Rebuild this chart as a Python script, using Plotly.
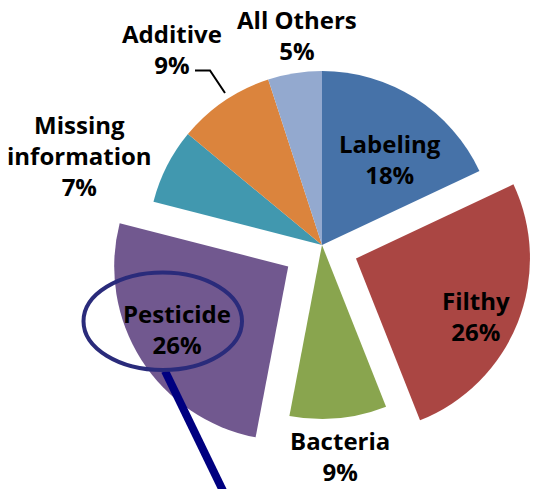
import plotly.graph_objects as go

# ---- data ----
categories = ["Labeling", "Filthy", "Bacteria", "Pesticide",
              "Missing information", "Additive", "All Others"]
display_text = ["Labeling", "Filthy", "Bacteria", "Pesticide",
                "Missing<br>information", "Additive", "All Others"]
shares = [18, 26, 9, 26, 7, 9, 5]
colors = ["#4672A8", "#AA4643", "#89A54E", "#71588F",
          "#4198AF", "#DB843D", "#93A9CF"]
pulls = [0, 0.21, 0, 0.23, 0, 0, 0]
# label block centres (pixels) – layout only
label_centres = [(390, 159), (476, 316), (340, 456), (177, 329),
                 (79, 155), (172, 49), (297, 35)]

W, H = 537, 489
FONT = "Open Sans"
FS = 24

def px(x, y):
    return x / W, 1 - y / H

# pie geometry (pixels)
cx, cy, R = 322, 245, 174
half = R * (1 + max(pulls))
dom_x = [max(0, (cx - half) / W), min(1, (cx + half) / W)]
dom_y = [1 - (cy + half) / H, 1 - (cy - half) / H]

fig = go.Figure(go.Pie(
    labels=categories,
    values=shares,
    textinfo="none",
    sort=False,
    direction="clockwise",
    rotation=0,
    pull=pulls,
    marker=dict(colors=colors, line=dict(width=0)),
    domain=dict(x=dom_x, y=dom_y),
    showlegend=False,
    hoverinfo="label+percent",
))

# data labels as text
for txt, val, (lx, ly) in zip(display_text, shares, label_centres):
    ax, ay = px(lx, ly)
    fig.add_annotation(x=ax, y=ay, xref="paper", yref="paper",
                       text=f"{txt}<br>{val}%", showarrow=False,
                       xanchor="center", yanchor="middle", align="center",
                       font=dict(family=FONT, size=FS, color="black",
                                 weight="bold"))

# leader line for "Additive"
p1 = px(195, 70.5); p2 = px(210, 70.5); p3 = px(225, 93)
fig.add_shape(type="path", xref="paper", yref="paper",
              path=f"M {p1[0]},{p1[1]} L {p2[0]},{p2[1]} L {p3[0]},{p3[1]}",
              line=dict(color="black", width=2))

# callout ellipse and stick
ex0, ey0 = px(83.5, 272.5)
ex1, ey1 = px(242, 370)
sx0, sy0 = px(165, 371)
sx1, sy1 = px(226, 497)
fig.add_shape(type="line", xref="paper", yref="paper",
              x0=sx0, y0=sy0, x1=sx1, y1=sy1,
              line=dict(color="#000080", width=8))
fig.add_shape(type="circle", xref="paper", yref="paper",
              x0=ex0, y0=ey1, x1=ex1, y1=ey0,
              line=dict(color="#2A2B7B", width=4))

fig.update_layout(
    width=W, height=H,
    margin=dict(l=0, r=0, t=0, b=0),
    paper_bgcolor="white",
    plot_bgcolor="white",
)

fig.write_html("out.html",
               config={"displayModeBar": False},
               post_script="document.body.style.margin='0';"
                           "document.body.style.overflow='hidden';")
